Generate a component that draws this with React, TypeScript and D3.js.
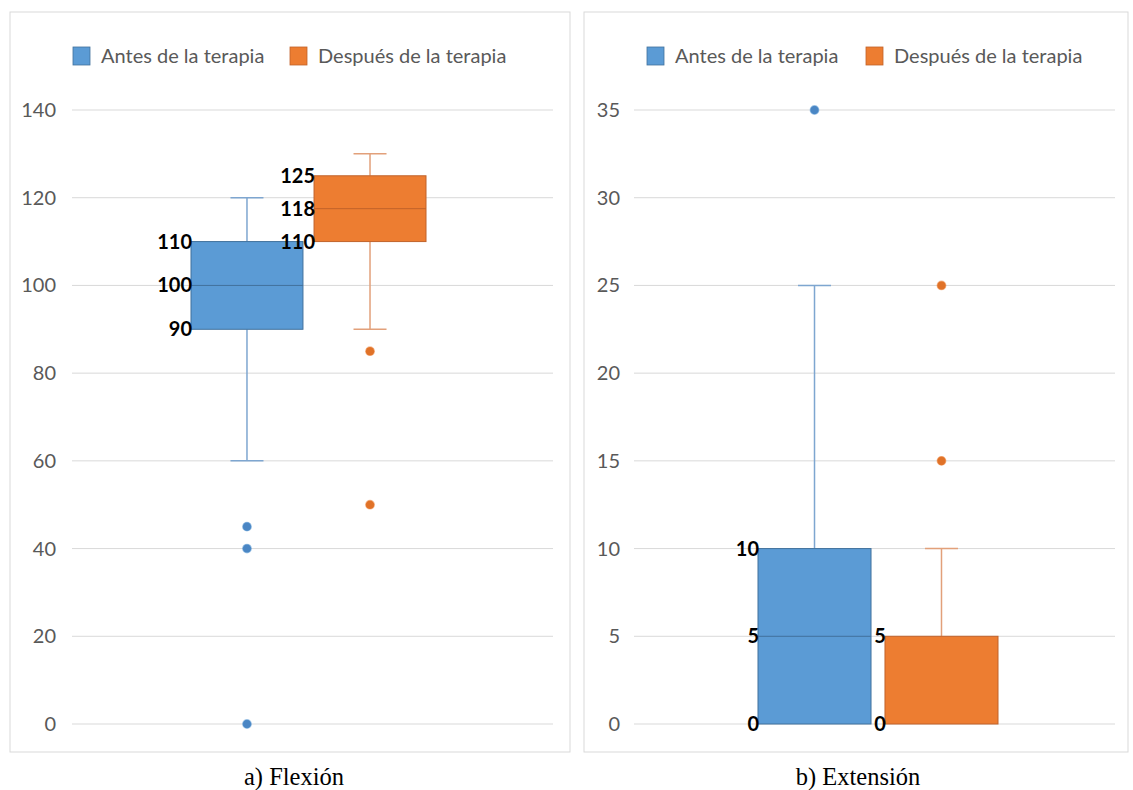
import React from "react";
import * as d3 from "d3";

// ---------- DATA ----------
const seriesNames = ["Antes de la terapia", "Después de la terapia"];
const seriesColors = ["#5B9BD5", "#ED7D31"];
const seriesStrokes = ["#41719C", "#C0622A"];
const whiskerColors = ["#7EA6D0", "#E2A07A"];
const dotColors = ["#4A86C4", "#E07228"];

// Flexión
const flexTicks = [0, 20, 40, 60, 80, 100, 120, 140];
const flexQ1 = [90, 110];
const flexMedian = [100, 117.5];
const flexQ3 = [110, 125];
const flexWhiskerLow = [60, 90];
const flexWhiskerHigh = [120, 130];
const flexOutliers = [[45, 40, 0], [85, 50]];
const flexLabels = [["110", "100", "90"], ["125", "118", "110"]];

// Extensión
const extTicks = [0, 5, 10, 15, 20, 25, 30, 35];
const extQ1 = [0, 0];
const extMedian = [5, 0];
const extQ3 = [10, 5];
const extWhiskerLow = [0, 0];
const extWhiskerHigh = [25, 10];
const extOutliers = [[35], [15, 25]];
const extLabels = [["10", "5", "0"], ["5", "", "0"]];

const captions = ["a) Flexión", "b) Extensión"];

const FONT = "Lato, 'Open Sans', sans-serif";

type PanelProps = {
  px: number; pw: number;
  plotL: number; plotR: number;
  boxL: number; boxR: number; pad: number;
  ticks: number[]; tickX: number;
  q1: number[]; med: number[]; q3: number[]; wl: number[]; wh: number[];
  outliers: number[][]; labels: string[][];
  legendX: number[];
  caption: string; captionX: number;
};

function Panel(p: PanelProps) {
  const y = d3.scaleLinear().domain([0, d3.max(p.ticks)!]).range([724, 110]);
  const x = d3.scaleBand<string>().domain(seriesNames).range([p.boxL, p.boxR]).paddingInner(p.pad);
  const bw = x.bandwidth();
  const capW = 33;
  return (
    <g>
      <rect x={p.px} y={12} width={p.pw} height={740} fill="#fff" stroke="#D9D9D9" strokeWidth={1} />
      {/* legend */}
      {seriesNames.map((s, i) => (
        <g key={s}>
          <rect x={p.legendX[i]} y={47} width={17} height={18} fill={seriesColors[i]} stroke={seriesStrokes[i]} strokeWidth={0.8} />
          <text x={p.legendX[i] + 28} y={63} fontFamily={FONT} fontSize={20} fill="#595959">{s}</text>
        </g>
      ))}
      {/* grid + ticks */}
      {p.ticks.map((t) => (
        <g key={t}>
          <line x1={p.plotL} x2={p.plotR} y1={y(t)} y2={y(t)} stroke="#D9D9D9" strokeWidth={1} />
          <text x={p.tickX} y={y(t) + 7} textAnchor="end" fontFamily={FONT} fontSize={20} fill="#595959">{t}</text>
        </g>
      ))}
      {seriesNames.map((s, i) => {
        const x0 = x(s)!;
        const cx = x0 + bw / 2;
        return (
          <g key={s}>
            {/* whiskers */}
            {p.wh[i] > p.q3[i] && (
              <g stroke={whiskerColors[i]} strokeWidth={1.5}>
                <line x1={cx} x2={cx} y1={y(p.q3[i])} y2={y(p.wh[i])} />
                <line x1={cx - capW / 2} x2={cx + capW / 2} y1={y(p.wh[i])} y2={y(p.wh[i])} />
              </g>
            )}
            {p.wl[i] < p.q1[i] && (
              <g stroke={whiskerColors[i]} strokeWidth={1.5}>
                <line x1={cx} x2={cx} y1={y(p.q1[i])} y2={y(p.wl[i])} />
                <line x1={cx - capW / 2} x2={cx + capW / 2} y1={y(p.wl[i])} y2={y(p.wl[i])} />
              </g>
            )}
            {/* box */}
            <rect x={x0} y={y(p.q3[i])} width={bw} height={y(p.q1[i]) - y(p.q3[i])} fill={seriesColors[i]} stroke={seriesStrokes[i]} strokeWidth={1} />
            {p.med[i] > p.q1[i] && (
              <line x1={x0} x2={x0 + bw} y1={y(p.med[i])} y2={y(p.med[i])} stroke={seriesStrokes[i]} strokeWidth={1} />
            )}
            {/* outliers */}
            {p.outliers[i].map((v, k) => (
              <circle key={k} cx={cx} cy={y(v)} r={4.3} fill={dotColors[i]} stroke={seriesColors[i]} strokeOpacity={0.5} strokeWidth={1.2} />
            ))}
            {/* labels */}
            {[p.q3[i], p.med[i], p.q1[i]].map((v, k) =>
              p.labels[i][k] ? (
                <text key={k} x={x0 + 1} y={y(v) + 7} textAnchor="end" fontFamily={FONT} fontWeight="bold" fontSize={20} fill="#000">{p.labels[i][k]}</text>
              ) : null
            )}
          </g>
        );
      })}
      <text x={p.captionX} y={785} textAnchor="middle" fontFamily="'Liberation Serif', 'Times New Roman', serif" fontSize={24.5} fill="#000">{p.caption}</text>
    </g>
  );
}

export default function App() {
  return (
    <svg width={1133} height={790} style={{ position: "absolute", left: 0, top: 0, background: "#fff" }}>
      <Panel px={10} pw={560} plotL={72} plotR={553} boxL={191} boxR={426} pad={0.09}
        ticks={flexTicks} tickX={56}
        q1={flexQ1} med={flexMedian} q3={flexQ3} wl={flexWhiskerLow} wh={flexWhiskerHigh}
        outliers={flexOutliers} labels={flexLabels}
        legendX={[73, 290]} caption={captions[0]} captionX={294} />
      <Panel px={584} pw={544} plotL={634} plotR={1115} boxL={758} boxR={998} pad={0.11}
        ticks={extTicks} tickX={620}
        q1={extQ1} med={extMedian} q3={extQ3} wl={extWhiskerLow} wh={extWhiskerHigh}
        outliers={extOutliers} labels={extLabels}
        legendX={[647, 866]} caption={captions[1]} captionX={858} />
    </svg>
  );
}
